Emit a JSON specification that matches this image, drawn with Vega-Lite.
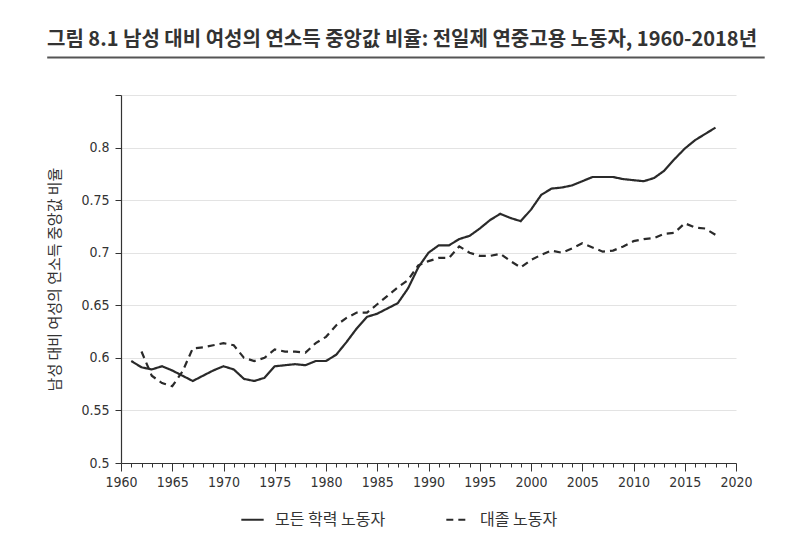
{
  "$schema": "https://vega.github.io/schema/vega-lite/v6.json",
  "width": 615,
  "height": 368,
  "autosize": {"type": "none"},
  "padding": {"left": 121, "top": 95, "right": 66, "bottom": 77},
  "background": "white",
  "config": {
    "view": {"stroke": null},
    "font": "Noto Sans CJK KR"
  },
  "title": {
    "text": "그림 8.1 남성 대비 여성의 연소득 중앙값 비율: 전일제 연중고용 노동자, 1960-2018년",
    "anchor": "start",
    "frame": "group",
    "dx": -74,
    "offset": 6,
    "fontSize": 20,
    "fontWeight": "bold",
    "font": "Noto Sans CJK KR",
    "color": "#333333"
  },
  "datasets": {
    "series": [
      {"year": 1961, "group": "모든 학력 노동자", "ratio": 0.597},
      {"year": 1962, "group": "모든 학력 노동자", "ratio": 0.591},
      {"year": 1963, "group": "모든 학력 노동자", "ratio": 0.589},
      {"year": 1964, "group": "모든 학력 노동자", "ratio": 0.592},
      {"year": 1965, "group": "모든 학력 노동자", "ratio": 0.588},
      {"year": 1966, "group": "모든 학력 노동자", "ratio": 0.583},
      {"year": 1967, "group": "모든 학력 노동자", "ratio": 0.578},
      {"year": 1968, "group": "모든 학력 노동자", "ratio": 0.583},
      {"year": 1969, "group": "모든 학력 노동자", "ratio": 0.588},
      {"year": 1970, "group": "모든 학력 노동자", "ratio": 0.592},
      {"year": 1971, "group": "모든 학력 노동자", "ratio": 0.589},
      {"year": 1972, "group": "모든 학력 노동자", "ratio": 0.580},
      {"year": 1973, "group": "모든 학력 노동자", "ratio": 0.578},
      {"year": 1974, "group": "모든 학력 노동자", "ratio": 0.581},
      {"year": 1975, "group": "모든 학력 노동자", "ratio": 0.592},
      {"year": 1976, "group": "모든 학력 노동자", "ratio": 0.593},
      {"year": 1977, "group": "모든 학력 노동자", "ratio": 0.594},
      {"year": 1978, "group": "모든 학력 노동자", "ratio": 0.593},
      {"year": 1979, "group": "모든 학력 노동자", "ratio": 0.597},
      {"year": 1980, "group": "모든 학력 노동자", "ratio": 0.597},
      {"year": 1981, "group": "모든 학력 노동자", "ratio": 0.603},
      {"year": 1982, "group": "모든 학력 노동자", "ratio": 0.615},
      {"year": 1983, "group": "모든 학력 노동자", "ratio": 0.628},
      {"year": 1984, "group": "모든 학력 노동자", "ratio": 0.639},
      {"year": 1985, "group": "모든 학력 노동자", "ratio": 0.642},
      {"year": 1986, "group": "모든 학력 노동자", "ratio": 0.647},
      {"year": 1987, "group": "모든 학력 노동자", "ratio": 0.652},
      {"year": 1988, "group": "모든 학력 노동자", "ratio": 0.666},
      {"year": 1989, "group": "모든 학력 노동자", "ratio": 0.686},
      {"year": 1990, "group": "모든 학력 노동자", "ratio": 0.700},
      {"year": 1991, "group": "모든 학력 노동자", "ratio": 0.707},
      {"year": 1992, "group": "모든 학력 노동자", "ratio": 0.707},
      {"year": 1993, "group": "모든 학력 노동자", "ratio": 0.713},
      {"year": 1994, "group": "모든 학력 노동자", "ratio": 0.716},
      {"year": 1995, "group": "모든 학력 노동자", "ratio": 0.723},
      {"year": 1996, "group": "모든 학력 노동자", "ratio": 0.731},
      {"year": 1997, "group": "모든 학력 노동자", "ratio": 0.737},
      {"year": 1998, "group": "모든 학력 노동자", "ratio": 0.733},
      {"year": 1999, "group": "모든 학력 노동자", "ratio": 0.730},
      {"year": 2000, "group": "모든 학력 노동자", "ratio": 0.741},
      {"year": 2001, "group": "모든 학력 노동자", "ratio": 0.755},
      {"year": 2002, "group": "모든 학력 노동자", "ratio": 0.761},
      {"year": 2003, "group": "모든 학력 노동자", "ratio": 0.762},
      {"year": 2004, "group": "모든 학력 노동자", "ratio": 0.764},
      {"year": 2005, "group": "모든 학력 노동자", "ratio": 0.768},
      {"year": 2006, "group": "모든 학력 노동자", "ratio": 0.772},
      {"year": 2007, "group": "모든 학력 노동자", "ratio": 0.772},
      {"year": 2008, "group": "모든 학력 노동자", "ratio": 0.772},
      {"year": 2009, "group": "모든 학력 노동자", "ratio": 0.770},
      {"year": 2010, "group": "모든 학력 노동자", "ratio": 0.769},
      {"year": 2011, "group": "모든 학력 노동자", "ratio": 0.768},
      {"year": 2012, "group": "모든 학력 노동자", "ratio": 0.771},
      {"year": 2013, "group": "모든 학력 노동자", "ratio": 0.778},
      {"year": 2014, "group": "모든 학력 노동자", "ratio": 0.789},
      {"year": 2015, "group": "모든 학력 노동자", "ratio": 0.799},
      {"year": 2016, "group": "모든 학력 노동자", "ratio": 0.807},
      {"year": 2017, "group": "모든 학력 노동자", "ratio": 0.813},
      {"year": 2018, "group": "모든 학력 노동자", "ratio": 0.819},
      {"year": 1962, "group": "대졸 노동자", "ratio": 0.606},
      {"year": 1963, "group": "대졸 노동자", "ratio": 0.583},
      {"year": 1964, "group": "대졸 노동자", "ratio": 0.576},
      {"year": 1965, "group": "대졸 노동자", "ratio": 0.573},
      {"year": 1966, "group": "대졸 노동자", "ratio": 0.587},
      {"year": 1967, "group": "대졸 노동자", "ratio": 0.609},
      {"year": 1968, "group": "대졸 노동자", "ratio": 0.610},
      {"year": 1969, "group": "대졸 노동자", "ratio": 0.612},
      {"year": 1970, "group": "대졸 노동자", "ratio": 0.614},
      {"year": 1971, "group": "대졸 노동자", "ratio": 0.612},
      {"year": 1972, "group": "대졸 노동자", "ratio": 0.600},
      {"year": 1973, "group": "대졸 노동자", "ratio": 0.597},
      {"year": 1974, "group": "대졸 노동자", "ratio": 0.600},
      {"year": 1975, "group": "대졸 노동자", "ratio": 0.608},
      {"year": 1976, "group": "대졸 노동자", "ratio": 0.606},
      {"year": 1977, "group": "대졸 노동자", "ratio": 0.606},
      {"year": 1978, "group": "대졸 노동자", "ratio": 0.605},
      {"year": 1979, "group": "대졸 노동자", "ratio": 0.614},
      {"year": 1980, "group": "대졸 노동자", "ratio": 0.620},
      {"year": 1981, "group": "대졸 노동자", "ratio": 0.631},
      {"year": 1982, "group": "대졸 노동자", "ratio": 0.638},
      {"year": 1983, "group": "대졸 노동자", "ratio": 0.643},
      {"year": 1984, "group": "대졸 노동자", "ratio": 0.643},
      {"year": 1985, "group": "대졸 노동자", "ratio": 0.651},
      {"year": 1986, "group": "대졸 노동자", "ratio": 0.659},
      {"year": 1987, "group": "대졸 노동자", "ratio": 0.667},
      {"year": 1988, "group": "대졸 노동자", "ratio": 0.674},
      {"year": 1989, "group": "대졸 노동자", "ratio": 0.688},
      {"year": 1990, "group": "대졸 노동자", "ratio": 0.692},
      {"year": 1991, "group": "대졸 노동자", "ratio": 0.695},
      {"year": 1992, "group": "대졸 노동자", "ratio": 0.695},
      {"year": 1993, "group": "대졸 노동자", "ratio": 0.706},
      {"year": 1994, "group": "대졸 노동자", "ratio": 0.700},
      {"year": 1995, "group": "대졸 노동자", "ratio": 0.697},
      {"year": 1996, "group": "대졸 노동자", "ratio": 0.697},
      {"year": 1997, "group": "대졸 노동자", "ratio": 0.699},
      {"year": 1998, "group": "대졸 노동자", "ratio": 0.692},
      {"year": 1999, "group": "대졸 노동자", "ratio": 0.686},
      {"year": 2000, "group": "대졸 노동자", "ratio": 0.693},
      {"year": 2001, "group": "대졸 노동자", "ratio": 0.698},
      {"year": 2002, "group": "대졸 노동자", "ratio": 0.702},
      {"year": 2003, "group": "대졸 노동자", "ratio": 0.700},
      {"year": 2004, "group": "대졸 노동자", "ratio": 0.704},
      {"year": 2005, "group": "대졸 노동자", "ratio": 0.709},
      {"year": 2006, "group": "대졸 노동자", "ratio": 0.705},
      {"year": 2007, "group": "대졸 노동자", "ratio": 0.701},
      {"year": 2008, "group": "대졸 노동자", "ratio": 0.702},
      {"year": 2009, "group": "대졸 노동자", "ratio": 0.706},
      {"year": 2010, "group": "대졸 노동자", "ratio": 0.711},
      {"year": 2011, "group": "대졸 노동자", "ratio": 0.713},
      {"year": 2012, "group": "대졸 노동자", "ratio": 0.714},
      {"year": 2013, "group": "대졸 노동자", "ratio": 0.718},
      {"year": 2014, "group": "대졸 노동자", "ratio": 0.719},
      {"year": 2015, "group": "대졸 노동자", "ratio": 0.728},
      {"year": 2016, "group": "대졸 노동자", "ratio": 0.724},
      {"year": 2017, "group": "대졸 노동자", "ratio": 0.723},
      {"year": 2018, "group": "대졸 노동자", "ratio": 0.717}
    ]
  },
  "resolve": {"scale": {"x": "independent"}, "axis": {"x": "independent"}},
  "layer": [
    {
      "data": {"name": "series"},
      "mark": {"type": "line", "color": "#2a2a2a", "strokeWidth": 2.2},
      "encoding": {
        "x": {
          "field": "year",
          "type": "quantitative",
          "scale": {"domain": [1960, 2020], "nice": false, "zero": false},
          "axis": {
            "title": null,
            "values": [1960,1961,1962,1963,1964,1965,1966,1967,1968,1969,1970,1971,1972,1973,1974,1975,1976,1977,1978,1979,1980,1981,1982,1983,1984,1985,1986,1987,1988,1989,1990,1991,1992,1993,1994,1995,1996,1997,1998,1999,2000,2001,2002,2003,2004,2005,2006,2007,2008,2009,2010,2011,2012,2013,2014,2015,2016,2017,2018,2019,2020],
            "format": "d",
            "labelExpr": "datum.value % 5 == 0 ? datum.label : ''",
            "labelOverlap": false,
            "labelFlush": false,
            "labelFont": "DejaVu Sans Condensed",
            "labelFontSize": 14,
            "labelColor": "#333333",
            "labelPadding": 4,
            "grid": false,
            "domainColor": "#333333",
            "domainWidth": 1.2,
            "tickColor": "#333333",
            "tickWidth": 1,
            "tickSize": {"condition": {"test": "datum.value % 5 == 0", "value": 8}, "value": 4}
          }
        },
        "y": {
          "field": "ratio",
          "type": "quantitative",
          "scale": {"domain": [0.5, 0.85], "nice": false, "zero": false},
          "axis": {
            "title": "남성 대비 여성의 연소득 중앙값 비율",
            "titleFont": "Noto Sans CJK KR",
            "titleFontSize": 15,
            "titleFontWeight": "normal",
            "titleColor": "#333333",
            "titlePadding": 18,
            "values": [0.5, 0.55, 0.6, 0.65, 0.7, 0.75, 0.8, 0.85],
            "format": "~g",
            "labelExpr": "datum.value > 0.84 ? '' : datum.label",
            "labelFont": "DejaVu Sans Condensed",
            "labelFontSize": 14,
            "labelColor": "#333333",
            "labelPadding": 6,
            "grid": true,
            "gridColor": "#e3e3e3",
            "gridWidth": 1.2,
            "domainColor": "#333333",
            "domainWidth": 1.2,
            "tickColor": "#333333",
            "tickSize": 6
          }
        },
        "strokeDash": {
          "field": "group",
          "type": "nominal",
          "scale": {"domain": ["모든 학력 노동자", "대졸 노동자"], "range": [[1, 0], [7, 5]]},
          "legend": {
            "title": null,
            "orient": "none",
            "legendX": 119,
            "legendY": 412,
            "direction": "horizontal",
            "symbolType": "stroke",
            "symbolSize": 500,
            "symbolStrokeWidth": 2.2,
            "symbolStrokeColor": "#2a2a2a",
            "labelFont": "Noto Sans CJK KR",
            "labelFontSize": 16,
            "labelColor": "#333333",
            "labelOffset": 10,
            "columnPadding": 55,
            "labelLimit": 300
          }
        }
      }
    },
    {
      "data": {"values": [{"label": "title rule"}]},
      "mark": {"type": "rule", "color": "#555555", "strokeWidth": 2},
      "encoding": {
        "x": {"datum": 1952.8, "type": "quantitative", "scale": {"domain": [1960, 2020], "nice": false, "zero": false}, "axis": null},
        "x2": {"datum": 2022.8},
        "y": {"datum": 0.8857, "type": "quantitative"}
      }
    }
  ]
}
